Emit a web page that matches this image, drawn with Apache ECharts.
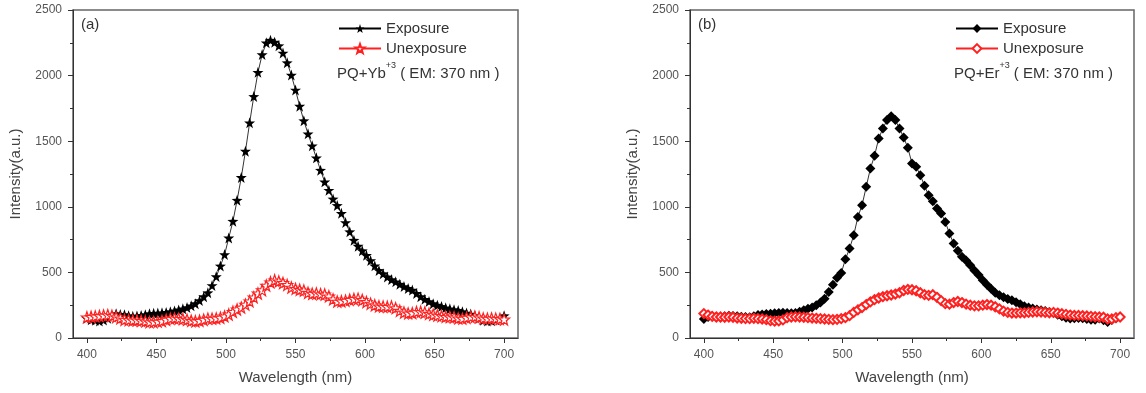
<!DOCTYPE html>
<html>
<head>
<meta charset="utf-8">
<script src="https://cdn.jsdelivr.net/npm/echarts@6/dist/echarts.min.js"></script>
<style>
  html, body { margin: 0; padding: 0; background: #fff; }
  #chart { width: 1146px; height: 393px; }
</style>
</head>
<body>
<div id="chart"></div>
<script>
// Wavelength grid (nm), 3 nm steps
const wavelengths = [];
for (let w = 400; w <= 700; w += 3) wavelengths.push(w);

// (a) PQ+Yb+3
const ybExposure = [150, 140, 135, 130, 138, 150, 165, 185, 180, 178, 170, 165, 168, 172, 178, 185, 188, 190, 192, 195,
    200, 206, 214, 222, 232, 245, 262, 285, 315, 345, 400, 468, 549, 636, 763, 890, 1050, 1224, 1424, 1640,
    1841, 2025, 2160, 2250, 2270, 2255, 2228, 2172, 2098, 2004, 1890, 1767, 1656, 1556, 1465, 1373, 1279, 1190, 1126, 1060,
    1010, 950, 880, 810, 745, 700, 665, 630, 590, 550, 515, 490, 465, 445, 428, 410, 392, 378, 365, 340,
    315, 295, 278, 262, 250, 240, 230, 222, 216, 210, 200, 190, 182, 170, 150, 135, 130, 132, 140, 150, 170];
const ybUnexposure = [158, 162, 165, 168, 172, 175, 170, 160, 150, 140, 138, 135, 135, 132, 128, 122, 122, 125, 130, 140,
    148, 150, 148, 145, 140, 132, 128, 132, 140, 148, 148, 150, 155, 165, 180, 200, 218, 232, 255, 280,
    310, 340, 365, 400, 425, 440, 432, 420, 405, 385, 375, 368, 362, 345, 338, 340, 335, 332, 318, 295,
    278, 280, 285, 292, 298, 300, 290, 275, 262, 250, 242, 240, 238, 240, 228, 208, 195, 188, 190, 198,
    200, 195, 185, 178, 172, 168, 162, 160, 158, 150, 148, 155, 160, 162, 158, 150, 148, 150, 148, 145, 142];

// (b) PQ+Er+3
const erExposure = [145, 160, 165, 160, 158, 165, 170, 168, 165, 162, 160, 158, 165, 175, 180, 183, 185, 188, 190, 192,
    190, 188, 190, 200, 212, 222, 232, 250, 270, 300, 350, 405, 460, 495, 600, 682, 783, 923, 1012, 1152,
    1292, 1389, 1521, 1597, 1661, 1690, 1661, 1597, 1528, 1450, 1330, 1305, 1241, 1160, 1088, 1043, 987, 949, 885, 796,
    720, 665, 620, 590, 555, 515, 480, 440, 405, 375, 345, 325, 310, 298, 287, 272, 258, 242, 232, 225,
    218, 211, 205, 198, 190, 178, 165, 155, 148, 150, 152, 150, 145, 140, 140, 148, 135, 122, 138, 150, 160];
const erUnexposure = [186, 175, 165, 160, 160, 158, 160, 158, 152, 150, 148, 148, 150, 148, 145, 140, 132, 128, 130, 138,
    155, 160, 162, 160, 158, 155, 152, 150, 148, 145, 142, 140, 142, 148, 155, 170, 195, 215, 232, 255,
    275, 292, 305, 315, 322, 328, 335, 345, 362, 370, 368, 360, 345, 330, 325, 330, 310, 285, 262, 258,
    270, 278, 270, 258, 250, 245, 245, 250, 255, 250, 238, 222, 205, 195, 190, 190, 192, 192, 195, 198,
    200, 198, 195, 192, 195, 190, 185, 180, 175, 172, 172, 170, 168, 165, 162, 160, 158, 145, 145, 155, 160];

// Axis ticks
const xTicks = [400, 450, 500, 550, 600, 650, 700];
const xMinorTicks = [425, 475, 525, 575, 625, 675];

const FONT = '"Liberation Sans", Arial, sans-serif';
const STAR = 'path://M0,-10L2.35,-3.24L9.51,-3.09L3.8,1.24L5.88,8.09L0,4L-5.88,8.09L-3.8,1.24L-9.51,-3.09L-2.35,-3.24Z';

const pair = (xs, ys) => xs.map((x, i) => [x, ys[i]]);

const grids = [
    { left: 73, top: 10, width: 445, height: 328 },
    { left: 690, top: 10, width: 444, height: 328 }
];

function mainX(gridIndex) {
    return {
        type: 'value', gridIndex: gridIndex, min: 390, max: 710,
        position: 'bottom',
        name: 'Wavelength (nm)', nameLocation: 'middle', nameGap: 32,
        nameTextStyle: { fontSize: 15, color: '#444', fontFamily: FONT },
        axisLine: { show: true, lineStyle: { color: '#333', width: 1 } },
        axisTick: { show: true, customValues: xTicks, length: 5, lineStyle: { color: '#333' } },
        axisLabel: { customValues: xTicks, margin: 11, fontSize: 12, color: '#555', fontFamily: FONT },
        splitLine: { show: false }
    };
}
function minorX(gridIndex) {
    return {
        type: 'value', gridIndex: gridIndex, min: 390, max: 710,
        position: 'bottom',
        axisLine: { show: false },
        axisTick: { show: true, customValues: xMinorTicks, length: 3, lineStyle: { color: '#333' } },
        axisLabel: { show: false },
        splitLine: { show: false }
    };
}
function mainY(gridIndex) {
    return {
        type: 'value', gridIndex: gridIndex, min: 0, max: 2500, interval: 500,
        name: 'Intensity(a.u.)', nameLocation: 'middle', nameGap: 50,
        nameTextStyle: { fontSize: 15, color: '#444', fontFamily: FONT },
        axisLine: { show: true, lineStyle: { color: '#333', width: 1 } },
        axisTick: { show: true, length: 5, lineStyle: { color: '#333' } },
        minorTick: { show: true, splitNumber: 2, length: 3, lineStyle: { color: '#333' } },
        axisLabel: { margin: 11, fontSize: 12, color: '#555', fontFamily: FONT, formatter: v => String(v) },
        splitLine: { show: false }
    };
}

function legendFor(left, names) {
    return {
        data: names,
        orient: 'vertical',
        left: left, top: 21, padding: 0,
        itemWidth: 42, itemHeight: 11, itemGap: 5,
        textStyle: { fontSize: 15, color: '#333', fontFamily: FONT },
        formatter: name => name.split(' ')[0]
    };
}

const option = {
    backgroundColor: '#fff',
    animation: false,
    grid: grids.map(g => Object.assign({ show: true, borderColor: '#666', borderWidth: 1.5, backgroundColor: 'transparent' }, g)),
    xAxis: [mainX(0), minorX(0), mainX(1), minorX(1)],
    yAxis: [mainY(0), mainY(1)],
    legend: [
        legendFor(338, ['Exposure (a)', 'Unexposure (a)']),
        legendFor(955, ['Exposure (b)', 'Unexposure (b)'])
    ],
    graphic: [
        { type: 'text', x: 81, y: 25, style: { text: '(a)', fontSize: 15, fill: '#333', fontFamily: FONT, verticalAlign: 'middle' } },
        { type: 'text', x: 698, y: 25, style: { text: '(b)', fontSize: 15, fill: '#333', fontFamily: FONT, verticalAlign: 'middle' } },
        {
            type: 'text', x: 337, y: 71,
            style: {
                text: '{a|PQ+Yb}{s|+3}{a| ( EM: 370 nm )}', verticalAlign: 'middle', fontFamily: FONT,
                rich: {
                    a: { fontSize: 15, lineHeight: 20, fill: '#333', fontFamily: FONT, verticalAlign: 'bottom' },
                    s: { fontSize: 9, lineHeight: 10, fill: '#333', fontFamily: FONT, verticalAlign: 'top' }
                }
            }
        },
        {
            type: 'text', x: 954, y: 71,
            style: {
                text: '{a|PQ+Er}{s|+3}{a| ( EM: 370 nm )}', verticalAlign: 'middle', fontFamily: FONT,
                rich: {
                    a: { fontSize: 15, lineHeight: 20, fill: '#333', fontFamily: FONT, verticalAlign: 'bottom' },
                    s: { fontSize: 9, lineHeight: 10, fill: '#333', fontFamily: FONT, verticalAlign: 'top' }
                }
            }
        }
    ],
    series: [
        {
            name: 'Exposure (a)', type: 'line', xAxisIndex: 0, yAxisIndex: 0,
            data: pair(wavelengths, ybExposure),
            symbol: STAR, symbolSize: 11, showAllSymbol: true,
            lineStyle: { color: '#000', width: 0.8 },
            itemStyle: { color: '#000' }
        },
        {
            name: 'Unexposure (a)', type: 'line', xAxisIndex: 0, yAxisIndex: 0,
            data: pair(wavelengths, ybUnexposure),
            symbol: STAR, symbolSize: 11, showAllSymbol: true,
            lineStyle: { color: '#ff2020', width: 0.8 },
            itemStyle: { color: '#fff', borderColor: '#ff2020', borderWidth: 1.2 }
        },
        {
            name: 'Exposure (b)', type: 'line', xAxisIndex: 2, yAxisIndex: 1,
            data: pair(wavelengths, erExposure),
            symbol: 'diamond', symbolSize: 10, showAllSymbol: true,
            lineStyle: { color: '#000', width: 0.8 },
            itemStyle: { color: '#000' }
        },
        {
            name: 'Unexposure (b)', type: 'line', xAxisIndex: 2, yAxisIndex: 1,
            data: pair(wavelengths, erUnexposure),
            symbol: 'emptyDiamond', symbolSize: 9, showAllSymbol: true,
            lineStyle: { color: '#ff2020', width: 0.8 },
            itemStyle: { color: '#ff2020', borderColor: '#ff2020', borderWidth: 1.2 }
        }
    ]
};

const myChart = echarts.init(document.getElementById('chart'));
myChart.setOption(option);
</script>
</body>
</html>
